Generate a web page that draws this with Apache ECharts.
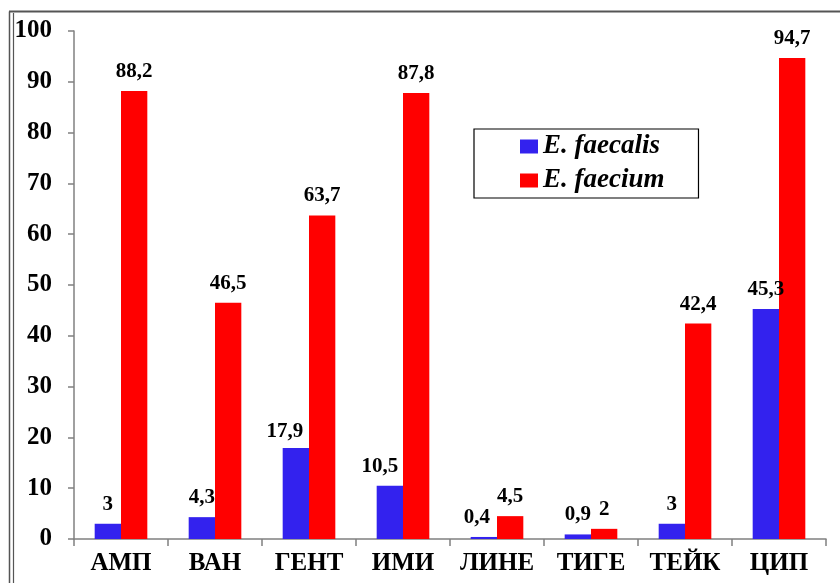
<!DOCTYPE html>
<html>
<head>
<meta charset="utf-8">
<script src="https://cdn.jsdelivr.net/npm/echarts@6/dist/echarts.min.js"></script>
<style>html,body{margin:0;padding:0;background:#fff}#c{width:840px;height:583px}</style>
</head>
<body>
<div id="c"></div>
<script>
const categories = ['АМП', 'ВАН', 'ГЕНТ', 'ИМИ', 'ЛИНЕ', 'ТИГЕ', 'ТЕЙК', 'ЦИП'];
const faecalis = [3, 4.3, 17.9, 10.5, 0.4, 0.9, 3, 45.3];
const faecium = [88.2, 46.5, 63.7, 87.8, 4.5, 2, 42.4, 94.7];
const seriesNames = ['E. faecalis', 'E. faecium'];
// label nudges (index -> [dx, dy])
const faecalisLabelShift = {2: [-11, 3], 3: [-10, 0], 4: [-7, 0]};

const font = '"Liberation Serif", "Times New Roman", serif';
const fmt = v => String(v).replace('.', ',');

const chart = echarts.init(document.getElementById('c'), null, {renderer: 'canvas'});
const labelBase = {show: true, position: 'top', distance: 9, fontFamily: font, fontWeight: 'bold', fontSize: 21, color: '#000',
  formatter: p => fmt(p.value)};

chart.setOption({
  animation: false,
  backgroundColor: '#fff',
  grid: {left: 74, right: 14, top: 31, bottom: 44, containLabel: false},
  legend: {
    data: seriesNames,
    orient: 'vertical',
    left: 474, top: 129,
    padding: [4, 34, 4, 46],
    itemGap: 7,
    itemWidth: 18, itemHeight: 14,
    icon: 'rect',
    borderColor: '#000', borderWidth: 1.2,
    textStyle: {fontFamily: font, fontStyle: 'italic', fontWeight: 'bold', fontSize: 27, color: '#000'}
  },
  xAxis: {
    type: 'category', data: categories,
    axisLine: {lineStyle: {color: '#808080', width: 1.5}},
    axisTick: {show: true, length: 7, alignWithLabel: false, lineStyle: {color: '#808080', width: 1.5}},
    axisLabel: {fontFamily: font, fontWeight: 'bold', fontSize: 25, color: '#000', margin: 12, interval: 0}
  },
  yAxis: {
    type: 'value', min: 0, max: 100, interval: 10,
    axisLine: {show: true, lineStyle: {color: '#808080', width: 1.5}},
    axisTick: {show: true, length: 6, lineStyle: {color: '#808080', width: 1.5}},
    splitLine: {show: false},
    axisLabel: {fontFamily: font, fontWeight: 'bold', fontSize: 25, color: '#000', margin: 22}
  },
  series: [
    {name: seriesNames[0], type: 'bar', barGap: '0%', barCategoryGap: '44%',
     itemStyle: {color: '#3322ee'},
     data: faecalis.map((v, i) => {
       const s = faecalisLabelShift[i];
       return s ? {value: v, label: {offset: s}} : v;
     }),
     label: labelBase},
    {name: seriesNames[1], type: 'bar', barGap: '0%', barCategoryGap: '44%',
     itemStyle: {color: '#ff0000'},
     data: faecium,
     label: labelBase}
  ],
  graphic: [
    {type: 'line', shape: {x1: 9.5, y1: 11.5, x2: 9.5, y2: 600}, style: {stroke: '#555', lineWidth: 1.5}},
    {type: 'line', shape: {x1: 13.5, y1: 13, x2: 13.5, y2: 600}, style: {stroke: '#555', lineWidth: 1.2}},
    {type: 'line', shape: {x1: 9, y1: 11.5, x2: 840, y2: 11.5}, style: {stroke: '#555', lineWidth: 2}}
  ]
});
</script>
</body>
</html>
